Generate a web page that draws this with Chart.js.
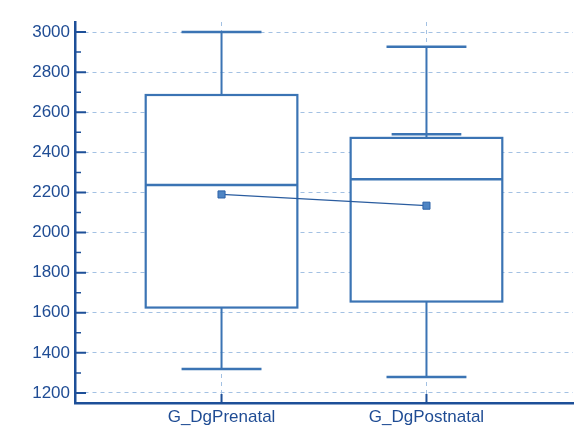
<!DOCTYPE html>
<html>
<head>
<meta charset="utf-8">
<script src="https://cdn.jsdelivr.net/npm/chart.js@4.4.1/dist/chart.umd.min.js"></script>
<style>
  html, body { margin: 0; padding: 0; background: #fff; }
  #wrap { width: 581px; height: 442px; }
</style>
</head>
<body>
<div id="wrap"><canvas id="chart"></canvas></div>
<script>
// ---- data ----
var groups = ['G_DgPrenatal', 'G_DgPostnatal'];
var groupPos = [1, 2];
var whiskerLow = [1320, 1280];
var q1 = [1626, 1656];
var median = [2237, 2266];
var q3 = [2686, 2472];
var whiskerHigh = [3000, 2927];
var innerCap = [null, 2490];
var means = [2190, 2134];
var yTicks = [1200, 1400, 1600, 1800, 2000, 2200, 2400, 2600, 2800, 3000];

var axisColor = '#1d4f98';
var boxColor = '#3b74b4';
var gridColor = '#a3c1e3';
var labelColor = '#1f4c94';

// Box, whiskers and caps drawn through the chart scales
var boxPlugin = {
    id: 'boxes',
    beforeDatasetsDraw: function (chart) {
        var ctx = chart.ctx;
        var xs = chart.scales.x, ys = chart.scales.y;
        var halfBox = 0.37, halfCap = 0.195, halfInner = 0.17;
        ctx.save();
        ctx.strokeStyle = boxColor;
        groupPos.forEach(function (p, i) {
            var xc = xs.getPixelForValue(p);
            var xl = xs.getPixelForValue(p - halfBox);
            var xr = xs.getPixelForValue(p + halfBox);
            var yq1 = ys.getPixelForValue(q1[i]);
            var yq3 = ys.getPixelForValue(q3[i]);

            // whiskers
            ctx.lineWidth = 2;
            ctx.beginPath();
            ctx.moveTo(xc, yq3);
            ctx.lineTo(xc, ys.getPixelForValue(whiskerHigh[i]));
            ctx.moveTo(xc, yq1);
            ctx.lineTo(xc, ys.getPixelForValue(whiskerLow[i]));
            ctx.stroke();

            // caps
            ctx.lineWidth = 2.5;
            ctx.beginPath();
            [whiskerHigh[i], whiskerLow[i]].forEach(function (v) {
                var y = ys.getPixelForValue(v);
                ctx.moveTo(xs.getPixelForValue(p - halfCap), y);
                ctx.lineTo(xs.getPixelForValue(p + halfCap), y);
            });
            if (innerCap[i] !== null) {
                var yi = ys.getPixelForValue(innerCap[i]);
                ctx.moveTo(xs.getPixelForValue(p - halfInner), yi);
                ctx.lineTo(xs.getPixelForValue(p + halfInner), yi);
            }
            ctx.stroke();

            // box
            ctx.fillStyle = '#ffffff';
            ctx.fillRect(xl, yq3, xr - xl, yq1 - yq3);
            ctx.lineWidth = 2.2;
            ctx.strokeRect(xl, yq3, xr - xl, yq1 - yq3);

            // median
            var ym = ys.getPixelForValue(median[i]);
            ctx.lineWidth = 2.5;
            ctx.beginPath();
            ctx.moveTo(xl, ym);
            ctx.lineTo(xr, ym);
            ctx.stroke();
        });
        ctx.restore();
    },
    // inward tick marks on both axes
    afterDraw: function (chart) {
        var ctx = chart.ctx;
        var xs = chart.scales.x, ys = chart.scales.y;
        var left = chart.chartArea.left, bottom = chart.chartArea.bottom;
        ctx.save();
        ctx.strokeStyle = axisColor;
        ctx.lineWidth = 2;
        ctx.beginPath();
        yTicks.forEach(function (v) {
            var y = ys.getPixelForValue(v);
            ctx.moveTo(left, y);
            ctx.lineTo(left + 11, y);
        });
        groupPos.forEach(function (p) {
            var x = xs.getPixelForValue(p);
            ctx.moveTo(x, bottom);
            ctx.lineTo(x, bottom - 9);
        });
        ctx.stroke();
        ctx.lineWidth = 1.5;
        ctx.beginPath();
        for (var v = 1300; v < 3000; v += 200) {
            var y = ys.getPixelForValue(v);
            ctx.moveTo(left, y);
            ctx.lineTo(left + 6, y);
        }
        ctx.stroke();
        ctx.restore();
    }
};

new Chart(document.getElementById('chart'), {
    type: 'line',
    data: {
        datasets: [{
            label: 'Mean',
            data: groupPos.map(function (p, i) { return { x: p, y: means[i] }; }),
            borderColor: '#2a5c9f',
            borderWidth: 1.3,
            pointStyle: 'rect',
            pointRadius: 5,
            pointBackgroundColor: '#4f85c4',
            pointBorderColor: '#2d62a8',
            pointBorderWidth: 1
        }]
    },
    options: {
        responsive: true,
        maintainAspectRatio: false,
        animation: false,
        layout: { padding: { top: 22, right: 8, left: 0, bottom: 0 } },
        plugins: { legend: { display: false }, tooltip: { enabled: false } },
        scales: {
            x: {
                type: 'linear',
                min: 0.285,
                max: 2.715,
                afterBuildTicks: function (scale) {
                    scale.ticks = groupPos.map(function (p) { return { value: p }; });
                },
                afterFit: function (scale) { scale.height = 39; },
                ticks: {
                    padding: 4,
                    color: labelColor,
                    font: { family: '"Liberation Sans", Arial, sans-serif', size: 17 },
                    callback: function (v) { return groups[groupPos.indexOf(v)]; }
                },
                grid: { color: gridColor, lineWidth: 1, drawTicks: false },
                border: { color: axisColor, width: 2.5, dash: [4, 4] }
            },
            y: {
                min: 1150,
                max: 3050,
                afterBuildTicks: function (scale) {
                    scale.ticks = yTicks.map(function (v) { return { value: v }; });
                },
                afterFit: function (scale) { scale.width = 75; },
                ticks: {
                    padding: 5,
                    color: labelColor,
                    font: { family: '"Liberation Sans", Arial, sans-serif', size: 17 },
                    callback: function (v) { return String(v); }
                },
                grid: { color: gridColor, lineWidth: 1, drawTicks: false },
                border: { color: axisColor, width: 2.5, dash: [4, 4] }
            }
        }
    },
    plugins: [boxPlugin]
});
</script>
</body>
</html>
